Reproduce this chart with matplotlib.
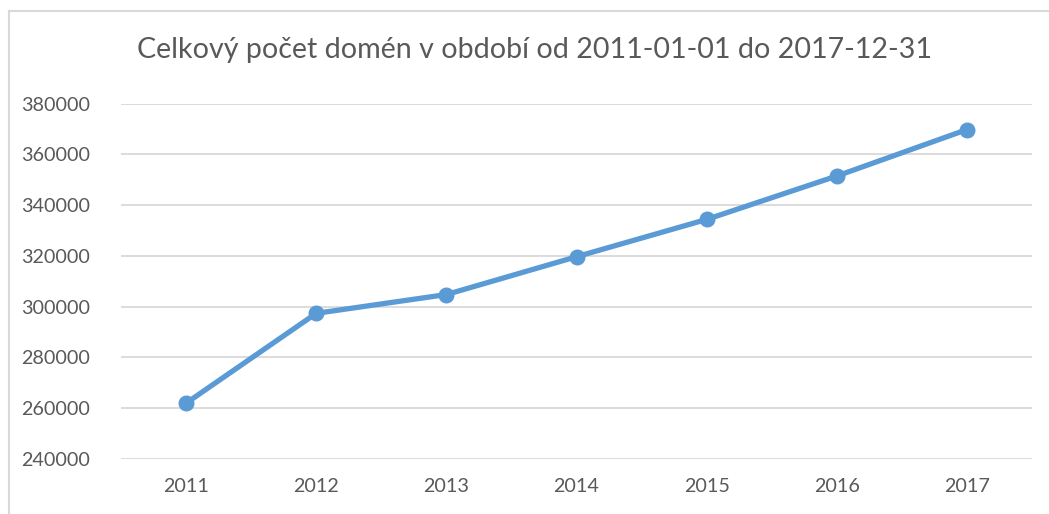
import matplotlib
matplotlib.use("Agg")
import matplotlib.pyplot as plt
from matplotlib.lines import Line2D

years = ["2011", "2012", "2013", "2014", "2015", "2016", "2017"]
domains = [262000, 297400, 304800, 319700, 334400, 351500, 369800]
yticks = [240000, 260000, 280000, 300000, 320000, 340000, 360000, 380000]
title = "Celkový počet domén v období od 2011-01-01 do 2017-12-31"

plt.rcParams['font.family'] = ['Lato', 'DejaVu Sans']

W, H = 1049, 514
fig = plt.figure(figsize=(W / 100, H / 100), dpi=100)
ax = fig.add_axes([121 / W, 1 - 459 / H, (1032 - 121) / W, (459 - 103.7) / H])

x = list(range(len(years)))
ax.plot(x, domains, color="#5B9BD5", linewidth=3.8, marker="o", markersize=10.5,
        solid_capstyle="round", zorder=3)

ax.set_xlim(-0.5, len(years) - 0.5)
ax.set_ylim(yticks[0], yticks[-1])
ax.set_yticks(yticks)
ax.set_yticklabels([str(v) for v in yticks])
ax.set_xticks(x)
ax.set_xticklabels(years)
ax.grid(axis="y", color="#D9D9D9", linewidth=1.3)
ax.set_axisbelow(True)
for s in ax.spines.values():
    s.set_visible(False)
ax.tick_params(axis="both", length=0, labelsize=14.2, labelcolor="#595959")
ax.tick_params(axis="y", pad=22)
ax.tick_params(axis="x", pad=14)

fig.text(534.5 / W, 1 - 50 / H, title, ha="center", va="center",
         fontsize=20.6, color="#595959")

# chart border (top and left visible)
fig.add_artist(Line2D([9 / W, 1], [1 - 11 / H, 1 - 11 / H], color="#D9D9D9",
                      linewidth=1.5, transform=fig.transFigure))
fig.add_artist(Line2D([9 / W, 9 / W], [0, 1 - 11 / H], color="#D9D9D9",
                      linewidth=1.5, transform=fig.transFigure))

fig.savefig("out.png", dpi=100, facecolor="white")
